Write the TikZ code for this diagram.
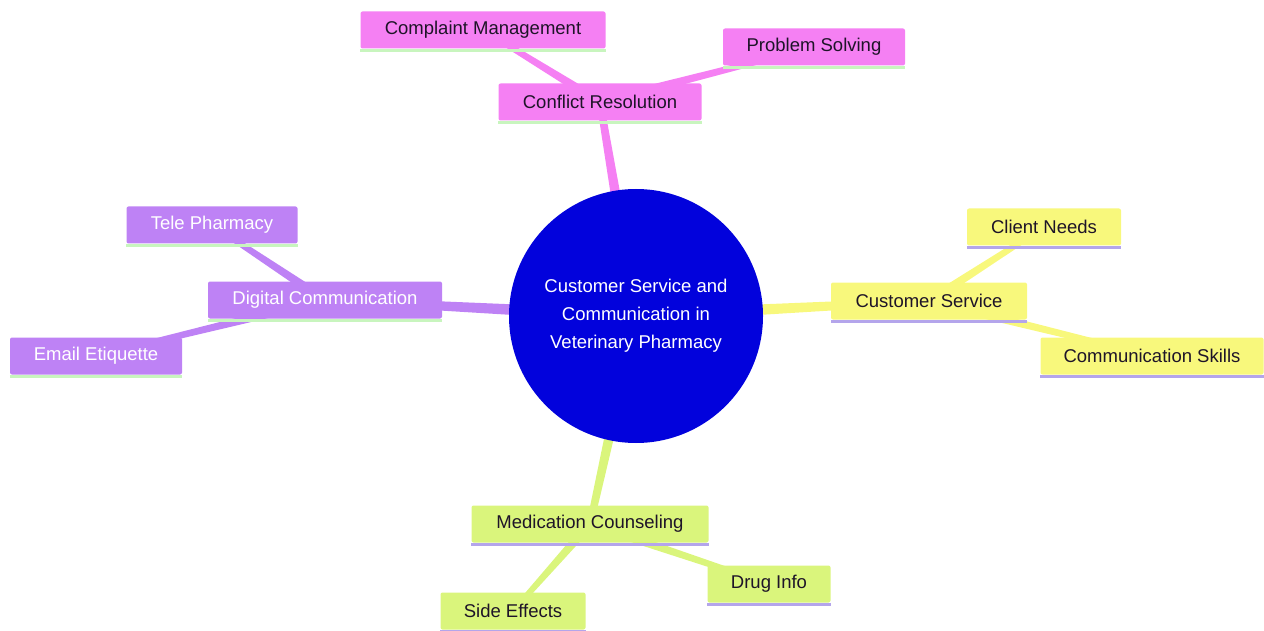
\documentclass[tikz,border=0pt]{standalone}
\usepackage{fontspec}
\setmainfont{Liberation Sans}
\usetikzlibrary{backgrounds,calc}
\definecolor{cpink}{RGB}{245,128,243}
\definecolor{cpurple}{RGB}{190,130,245}
\definecolor{cyellow}{RGB}{248,248,124}
\definecolor{cgreen}{RGB}{218,245,124}
\definecolor{cblue}{RGB}{2,2,220}
\definecolor{sgreen}{RGB}{200,245,190}
\definecolor{slav}{RGB}{180,165,235}
\definecolor{dtext}{RGB}{30,20,40}
\tikzset{
  box/.style={rectangle, rounded corners=2pt, minimum height=37pt, inner xsep=0pt,
     font=\fontsize{18.5}{22}\selectfont, text=dtext},
  stripe/.style={append after command={([yshift=-1.5pt]\tikzlastnode.south west) edge[draw=#1,line width=3pt] ([yshift=-1.5pt]\tikzlastnode.south east)}},
  pinkbox/.style={box, fill=cpink, stripe=sgreen},
  purplebox/.style={box, fill=cpurple, text=white, stripe=sgreen},
  yellowbox/.style={box, fill=cyellow, stripe=slav},
  greenbox/.style={box, fill=cgreen, stripe=slav},
}
% tapered connector: #1 colour, #2 from, #3 to, #4 half width at from, #5 half width at to
\newcommand\taper[5]{\fill[#1] ($(#2)!#4!90:(#3)$) -- ($(#3)!#5!-90:(#2)$) -- ($(#3)!#5!90:(#2)$) -- ($(#2)!#4!-90:(#3)$) -- cycle;}
\begin{document}
\begin{tikzpicture}[x=1pt,y=-1pt]
\useasboundingbox (0,0) rectangle (1264,631);
\node[circle, fill=cblue, minimum size=254pt, inner sep=0pt, text=white, align=center,
  font=\fontsize{18.5}{28}\selectfont] (root) at (636,316)
  {Customer Service and\\Communication in\\Veterinary Pharmacy};
% level 1
\node[pinkbox, minimum width=203pt] (cr) at (600,102) {Conflict Resolution};
\node[purplebox, minimum width=234pt] (dc) at (325,300) {Digital Communication};
\node[yellowbox, minimum width=196pt] (cs) at (929,301) {Customer Service};
\node[greenbox, minimum width=237pt] (mc) at (590,524) {Medication Counseling};
% level 2
\node[pinkbox, minimum width=245pt] (cm) at (483,30) {Complaint Management};
\node[pinkbox, minimum width=182pt] (ps) at (814,47) {Problem Solving};
\node[purplebox, minimum width=171pt] (tp) at (212,225) {Tele Pharmacy};
\node[purplebox, minimum width=172pt] (ee) at (96,356) {Email Etiquette};
\node[yellowbox, minimum width=154pt] (cn) at (1044,227) {Client Needs};
\node[yellowbox, minimum width=223pt] (csk) at (1152,356) {Communication Skills};
\node[greenbox, minimum width=123pt] (di) at (769,584) {Drug Info};
\node[greenbox, minimum width=145pt] (se) at (513,611) {Side Effects};
\begin{scope}[on background layer]
\taper{cpink}{root.center}{cr.center}{6.5pt}{3.5pt}
\taper{cpurple}{root.center}{dc.center}{6.5pt}{3.5pt}
\taper{cyellow}{root.center}{cs.center}{6.5pt}{3.5pt}
\taper{cgreen}{root.center}{mc.center}{6.5pt}{3.5pt}
\taper{cpink}{cr.center}{cm.center}{4.5pt}{2.5pt}
\taper{cpink}{cr.center}{ps.center}{4.5pt}{2.5pt}
\taper{cpurple}{dc.center}{tp.center}{4.5pt}{2.5pt}
\taper{cpurple}{dc.center}{ee.center}{4.5pt}{2.5pt}
\taper{cyellow}{cs.center}{cn.center}{4.5pt}{2.5pt}
\taper{cyellow}{cs.center}{csk.center}{4.5pt}{2.5pt}
\taper{cgreen}{mc.center}{di.center}{4.5pt}{2.5pt}
\taper{cgreen}{mc.center}{se.center}{4.5pt}{2.5pt}
\end{scope}
\end{tikzpicture}
\end{document}
